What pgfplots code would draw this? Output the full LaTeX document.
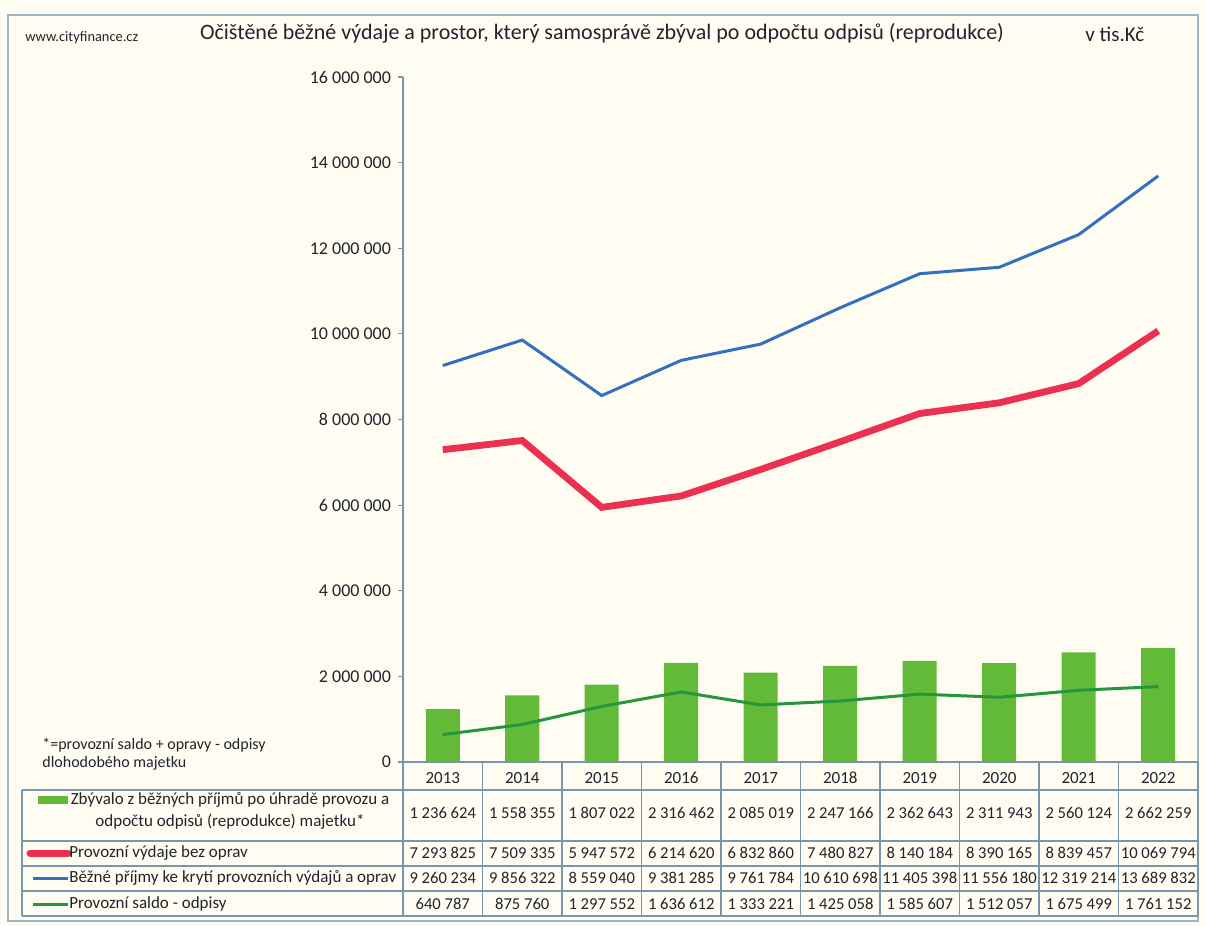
\documentclass[border=0pt]{standalone}
\usepackage{fontspec}
\setmainfont{Carlito}
\usepackage{pgfplots}
\pgfplotsset{compat=1.18}
\definecolor{bg}{RGB}{255,253,242}
\definecolor{bargreen}{RGB}{98,186,56}
\definecolor{linegreen}{RGB}{38,150,62}
\definecolor{linered}{RGB}{236,48,82}
\definecolor{lineblue}{RGB}{52,112,192}
\definecolor{tabline}{RGB}{120,150,170}
\definecolor{txt}{RGB}{35,35,45}
\begin{document}
\begin{tikzpicture}[x=0.5pt,y=-0.5pt]
\fill[bg] (0,0) rectangle (1206,926);
\draw[tabline!70, line width=0.8pt] (8,15) rectangle (1198,921);
\node[anchor=west, inner sep=0pt, font=\fontsize{7.2}{8}\selectfont, text=txt] at (25,38) {www.cityfinance.cz};
\node[font=\fontsize{11}{13}\selectfont, text=txt] at (602,33) {Očištěné běžné výdaje a prostor, který samosprávě zbýval po odpočtu odpisů (reprodukce)};
\node[anchor=west, inner sep=0pt, font=\fontsize{10.5}{12}\selectfont, text=txt] at (1085,34) {v tis.Kč};
\node[anchor=west, inner sep=0pt, font=\fontsize{8}{9}\selectfont, text=txt] at (42,745) {*=provozní saldo + opravy - odpisy};
\node[anchor=west, inner sep=0pt, font=\fontsize{8}{9}\selectfont, text=txt] at (42,763) {dlohodobého majetku};
\begin{axis}[
  at={(201.5pt,-381pt)}, anchor=south west,
  scale only axis, width=397.5pt, height=342.5pt,
  xmin=-0.5, xmax=9.5, ymin=0, ymax=16000000,
  axis x line*=bottom, axis y line*=left,
  axis line style={tabline, line width=0.6pt, -},
  xtick={0,...,9},
  xticklabels={2013,2014,2015,2016,2017,2018,2019,2020,2021,2022},
  x tick style={draw=none},
  xticklabel style={anchor=center, yshift=-5.5pt, font=\fontsize{8.5}{10}\selectfont, text=txt},
  ytick={0,2000000,4000000,6000000,8000000,10000000,12000000,14000000,16000000},
  yticklabels={0,2 000 000,4 000 000,6 000 000,8 000 000,10 000 000,12 000 000,14 000 000,16 000 000},
  scaled y ticks=false,
  tick align=outside, major tick length=2.5pt,
  y tick style={tabline, line width=0.6pt},
  yticklabel style={font=\fontsize{9}{10}\selectfont, text=txt},
  clip=false,
]
\addplot[ybar, bar width=17pt, fill=bargreen, draw=none] coordinates {
(0,1236624) (1,1558355) (2,1807022) (3,2316462) (4,2085019) (5,2247166) (6,2362643) (7,2311943) (8,2560124) (9,2662259)};
\addplot[linegreen, line width=1.5pt] coordinates {
(0,640787) (1,875760) (2,1297552) (3,1636612) (4,1333221) (5,1425058) (6,1585607) (7,1512057) (8,1675499) (9,1761152)};
\addplot[linered, line width=3.4pt] coordinates {
(0,7293825) (1,7509335) (2,5947572) (3,6214620) (4,6832860) (5,7480827) (6,8140184) (7,8390165) (8,8839457) (9,10069794)};
\addplot[lineblue, line width=1.5pt] coordinates {
(0,9260234) (1,9856322) (2,8559040) (3,9381285) (4,9761784) (5,10610698) (6,11405398) (7,11556180) (8,12319214) (9,13689832)};
\end{axis}
% data table
\draw[tabline, line width=0.6pt] (22,790) -- (1198,790);
\foreach \yy in {841,866,891,916} \draw[tabline, line width=0.6pt] (22,\yy) -- (1198,\yy);
\draw[tabline, line width=0.6pt] (22,790) -- (22,916);
\foreach \k in {0,...,10} \draw[tabline, line width=0.6pt] ({403+79.5*\k},762) -- ({403+79.5*\k},916);
% legend column
\fill[bargreen] (38,796) rectangle (68,804);
\draw[linered, line width=3.5pt, line cap=round] (30,853) -- (68,853);
\draw[lineblue, line width=1.5pt] (33,878) -- (68,878);
\draw[linegreen, line width=1.5pt] (33,904) -- (68,904);
\begin{scope}[every node/.style={font=\fontsize{8.5}{11}\selectfont, text=txt}]
\node[align=center] at (230,811) {Zbývalo z běžných příjmů po úhradě provozu a\\odpočtu odpisů (reprodukce) majetku*};
\node[anchor=west, inner sep=0pt] at (69,853) {Provozní výdaje bez oprav};
\node[anchor=west, inner sep=0pt] at (69,878) {Běžné příjmy ke krytí provozních výdajů a oprav};
\node[anchor=west, inner sep=0pt] at (69,904) {Provozní saldo - odpisy};
\end{scope}
\begin{scope}[every node/.style={font=\fontsize{8.3}{10}\selectfont, text=txt, inner sep=0pt}]
\foreach \v [count=\i from 0] in {1 236 624,1 558 355,1 807 022,2 316 462,2 085 019,2 247 166,2 362 643,2 311 943,2 560 124,2 662 259}
  \node at ({442.75+79.5*\i},813) {\v};
\foreach \v [count=\i from 0] in {7 293 825,7 509 335,5 947 572,6 214 620,6 832 860,7 480 827,8 140 184,8 390 165,8 839 457,10 069 794}
  \node at ({442.75+79.5*\i},853) {\v};
\foreach \v [count=\i from 0] in {9 260 234,9 856 322,8 559 040,9 381 285,9 761 784,10 610 698,11 405 398,11 556 180,12 319 214,13 689 832}
  \node at ({442.75+79.5*\i},878) {\v};
\foreach \v [count=\i from 0] in {640 787,875 760,1 297 552,1 636 612,1 333 221,1 425 058,1 585 607,1 512 057,1 675 499,1 761 152}
  \node at ({442.75+79.5*\i},904) {\v};
\end{scope}
\end{tikzpicture}
\end{document}
